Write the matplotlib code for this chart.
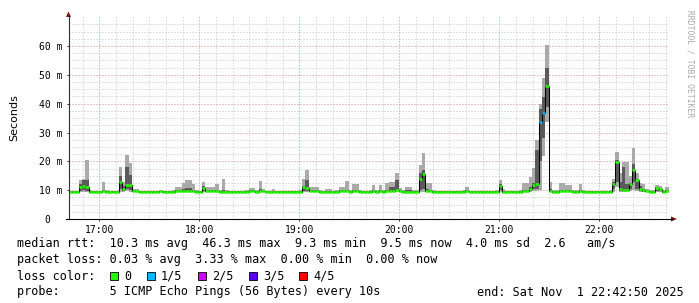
import numpy as np
import matplotlib
matplotlib.use('Agg')
import matplotlib.pyplot as plt
from matplotlib.patches import Polygon, Rectangle
from matplotlib.lines import Line2D

# ---------------------
# data (ms), one sample every 2 min from 16:41:30
# ---------------------
t_start = 16 * 60 + 41.5      # minutes of day
step_min = 2.0

rtt_min = [
    9.3, 9.3, 9.3, 9.4, 9.5, 9.4, 9.3, 9.3, 9.3, 9.3,
    9.4, 9.3, 9.3, 9.3, 9.3, 9.5, 9.4, 9.6, 9.5, 9.4,
    9.3, 9.3, 9.3, 9.2, 9.3, 9.3, 9.3, 9.3, 9.3, 9.3,
    9.3, 9.3, 9.3, 9.3, 9.4, 9.4, 9.4, 9.3, 9.3, 9.3,
    9.4, 9.4, 9.4, 9.3, 9.3, 9.3, 9.0, 9.3, 9.1, 9.3,
    9.3, 9.3, 9.2, 9.3, 9.3, 9.3, 9.3, 9.4, 9.3, 9.3,
    9.3, 9.3, 9.3, 9.2, 9.3, 9.3, 9.1, 9.3, 9.3, 9.3,
    9.4, 9.5, 9.4, 9.3, 9.3, 9.3, 9.1, 9.3, 9.3, 9.3,
    9.3, 9.3, 9.3, 9.4, 9.3, 9.3, 9.3, 9.3, 9.2, 9.3,
    9.3, 9.3, 9.3, 9.3, 9.3, 9.3, 9.4, 9.4, 9.5, 9.3,
    9.3, 9.1, 9.1, 9.3, 9.3, 9.5, 9.5, 9.4, 9.3, 9.3,
    9.1, 9.3, 9.3, 9.3, 9.2, 9.3, 9.3, 9.3, 9.3, 9.3,
    9.3, 9.3, 9.3, 9.3, 9.1, 9.3, 9.3, 9.3, 9.3, 9.5,
    9.3, 9.3, 9.3, 9.2, 9.3, 9.3, 9.3, 9.3, 9.4, 9.6,
    9.8, 10.0, 22.0, 33.7, 9.3, 9.3, 9.3, 9.3, 9.3, 9.3,
    9.3, 9.3, 9.3, 9.3, 9.3, 9.3, 9.3, 9.1, 9.3, 9.3,
    9.2, 9.3, 9.3, 9.5, 11.0, 9.5, 9.4, 9.4, 9.6, 10.0,
    9.8, 9.4, 9.4, 9.3, 9.3, 9.3, 9.5, 9.4, 9.3, 9.3,
]
rtt_low = [
    9.4, 9.4, 9.4, 9.8, 10.2, 9.8, 9.4, 9.4, 9.4, 9.4,
    9.5, 9.4, 9.4, 9.4, 9.4, 10.5, 9.8, 10.4, 10.2, 9.6,
    9.5, 9.4, 9.4, 9.3, 9.4, 9.4, 9.4, 9.5, 9.4, 9.4,
    9.4, 9.4, 9.5, 9.5, 9.6, 9.7, 9.6, 9.5, 9.4, 9.4,
    9.8, 9.6, 9.6, 9.5, 9.5, 9.4, 9.1, 9.4, 9.2, 9.4,
    9.4, 9.4, 9.3, 9.4, 9.5, 9.5, 9.4, 9.6, 9.5, 9.4,
    9.4, 9.4, 9.4, 9.3, 9.4, 9.4, 9.2, 9.4, 9.4, 9.4,
    9.7, 9.8, 9.6, 9.6, 9.5, 9.4, 9.2, 9.4, 9.4, 9.4,
    9.4, 9.5, 9.5, 9.6, 9.4, 9.5, 9.5, 9.4, 9.3, 9.4,
    9.4, 9.5, 9.4, 9.5, 9.4, 9.5, 9.6, 9.6, 9.7, 9.5,
    9.4, 9.2, 9.2, 9.4, 9.4, 10.0, 10.5, 9.6, 9.5, 9.4,
    9.2, 9.4, 9.4, 9.4, 9.3, 9.4, 9.4, 9.4, 9.4, 9.5,
    9.4, 9.4, 9.4, 9.4, 9.2, 9.4, 9.4, 9.4, 9.4, 10.0,
    9.4, 9.4, 9.4, 9.3, 9.4, 9.4, 9.5, 9.5, 9.7, 10.5,
    10.5, 20.0, 28.0, 39.0, 9.5, 9.4, 9.4, 9.5, 9.5, 9.5,
    9.5, 9.4, 9.4, 9.5, 9.4, 9.4, 9.4, 9.2, 9.4, 9.4,
    9.3, 9.4, 9.4, 10.5, 13.0, 9.8, 9.6, 9.7, 10.5, 13.0,
    10.5, 9.6, 9.5, 9.5, 9.4, 9.4, 9.8, 9.7, 9.4, 9.5,
]
rtt_median = [
    9.5, 9.5, 9.5, 11.2, 11.6, 11.0, 9.5, 9.5, 9.5, 9.5,
    9.6, 9.5, 9.5, 9.5, 9.5, 12.9, 10.5, 11.8, 11.8, 9.7,
    9.6, 9.5, 9.5, 9.4, 9.5, 9.5, 9.5, 9.6, 9.5, 9.5,
    9.5, 9.5, 9.6, 9.6, 9.7, 9.8, 9.7, 9.6, 9.5, 9.5,
    10.9, 9.8, 9.8, 9.7, 9.7, 9.5, 9.2, 9.5, 9.3, 9.5,
    9.5, 9.5, 9.4, 9.5, 9.6, 9.6, 9.5, 9.7, 9.6, 9.5,
    9.5, 9.5, 9.5, 9.4, 9.5, 9.5, 9.3, 9.5, 9.5, 9.5,
    11.0, 10.8, 9.8, 9.7, 9.6, 9.5, 9.3, 9.5, 9.5, 9.5,
    9.5, 9.6, 9.6, 9.7, 9.5, 9.6, 9.6, 9.5, 9.4, 9.5,
    9.5, 9.6, 9.5, 9.6, 9.5, 9.6, 9.7, 9.8, 10.0, 9.6,
    9.5, 9.3, 9.3, 9.5, 9.5, 13.8, 15.5, 9.7, 9.6, 9.5,
    9.3, 9.5, 9.5, 9.5, 9.4, 9.5, 9.5, 9.5, 9.5, 9.6,
    9.5, 9.5, 9.5, 9.5, 9.3, 9.5, 9.5, 9.5, 9.5, 11.6,
    9.5, 9.5, 9.5, 9.4, 9.5, 9.5, 9.6, 9.6, 10.5, 11.8,
    12.0, 33.7, 36.7, 46.3, 9.6, 9.5, 9.5, 9.6, 9.6, 9.6,
    9.6, 9.5, 9.5, 9.6, 9.5, 9.5, 9.5, 9.3, 9.5, 9.5,
    9.4, 9.5, 9.5, 12.2, 19.9, 10.5, 9.9, 10.0, 12.0, 16.9,
    13.5, 10.3, 10.0, 9.6, 9.5, 9.5, 10.6, 10.5, 9.5, 9.6,
]
rtt_high = [
    9.6, 9.6, 9.6, 12.0, 13.5, 13.5, 9.7, 9.6, 9.6, 9.6,
    10.0, 9.6, 9.6, 9.6, 9.6, 14.9, 11.5, 18.1, 15.3, 10.2,
    9.8, 9.6, 9.6, 9.6, 9.6, 9.6, 9.6, 9.8, 9.6, 9.6,
    9.6, 9.6, 9.9, 9.9, 10.5, 10.6, 10.6, 10.0, 9.6, 9.6,
    11.5, 10.2, 10.2, 10.0, 10.2, 9.6, 10.0, 9.6, 9.6, 9.6,
    9.6, 9.6, 9.6, 9.6, 9.9, 9.9, 9.6, 10.5, 9.8, 9.6,
    9.6, 9.8, 9.6, 9.6, 9.6, 9.6, 9.6, 9.6, 9.6, 9.6,
    11.3, 13.5, 10.0, 9.9, 9.9, 9.6, 9.6, 9.8, 9.8, 9.6,
    9.6, 9.9, 9.9, 10.2, 9.6, 10.0, 10.0, 9.6, 9.6, 9.6,
    9.6, 10.0, 9.6, 10.0, 9.6, 10.2, 11.2, 11.2, 13.5, 9.9,
    9.6, 9.9, 9.9, 9.6, 9.6, 15.8, 17.0, 10.5, 10.2, 9.6,
    9.6, 9.6, 9.6, 9.6, 9.6, 9.6, 9.6, 9.6, 9.6, 9.9,
    9.6, 9.6, 9.6, 9.6, 9.6, 9.6, 9.6, 9.6, 9.6, 12.2,
    9.8, 9.6, 9.6, 9.6, 9.6, 9.6, 10.0, 10.0, 11.0, 12.5,
    24.0, 38.0, 42.4, 52.3, 10.5, 9.6, 9.6, 10.0, 10.0, 9.9,
    9.9, 9.6, 9.6, 10.0, 9.6, 9.6, 9.6, 9.6, 9.6, 9.6,
    9.6, 9.6, 9.6, 12.8, 20.5, 13.0, 18.0, 12.0, 12.5, 19.0,
    14.0, 11.5, 10.5, 9.8, 9.6, 9.6, 11.0, 10.8, 9.6, 9.9,
]
rtt_max = [
    9.8, 9.8, 9.8, 13.5, 13.8, 20.5, 9.9, 9.8, 9.8, 9.8,
    12.9, 9.9, 9.8, 9.8, 9.8, 18.1, 13.0, 22.2, 19.5, 10.5,
    10.4, 9.8, 9.8, 9.8, 9.8, 9.8, 9.8, 10.2, 9.8, 9.8,
    9.8, 9.9, 11.2, 11.2, 12.6, 13.5, 13.5, 12.0, 9.9, 9.8,
    12.9, 11.0, 11.0, 11.0, 12.0, 9.9, 13.8, 9.9, 9.8, 9.8,
    9.8, 9.8, 9.8, 9.9, 10.9, 10.9, 9.9, 13.3, 10.5, 9.8,
    9.8, 10.4, 9.8, 9.8, 9.8, 9.8, 9.8, 9.8, 9.8, 9.9,
    13.8, 17.0, 11.2, 11.2, 11.2, 9.9, 9.8, 10.3, 10.3, 9.8,
    9.9, 11.0, 11.0, 13.2, 9.9, 12.0, 12.0, 9.9, 9.8, 9.8,
    9.9, 11.8, 9.9, 11.8, 9.9, 12.4, 12.9, 12.9, 15.8, 10.8,
    9.9, 11.2, 11.2, 9.9, 9.9, 18.7, 22.8, 12.6, 12.6, 9.9,
    9.8, 9.8, 9.8, 9.8, 9.8, 9.8, 9.8, 9.8, 9.9, 11.0,
    9.8, 9.8, 9.8, 9.8, 9.8, 9.8, 9.8, 9.8, 9.9, 13.5,
    10.3, 9.8, 9.8, 9.8, 9.8, 9.9, 12.6, 12.6, 14.7, 17.6,
    27.4, 40.0, 48.8, 60.4, 12.9, 9.9, 9.9, 12.6, 12.6, 11.8,
    11.8, 9.9, 9.9, 12.2, 9.9, 9.8, 9.8, 9.8, 9.8, 9.8,
    9.8, 9.8, 9.9, 13.8, 23.3, 16.0, 19.9, 19.9, 15.0, 24.5,
    16.0, 12.6, 12.0, 10.5, 9.9, 9.9, 11.8, 11.5, 9.9, 11.0,
]
# lost pings out of 5
loss = [
    0, 0, 0, 0, 0, 0, 0, 0, 0, 0,
    0, 0, 0, 0, 0, 0, 0, 0, 0, 0,
    0, 0, 0, 0, 0, 0, 0, 0, 0, 0,
    0, 0, 0, 0, 0, 0, 0, 0, 0, 0,
    0, 0, 0, 0, 0, 0, 0, 0, 0, 0,
    0, 0, 0, 0, 0, 0, 0, 0, 0, 0,
    0, 0, 0, 0, 0, 0, 0, 0, 0, 0,
    0, 0, 0, 0, 0, 0, 0, 0, 0, 0,
    0, 0, 0, 0, 0, 0, 0, 0, 0, 0,
    0, 0, 0, 0, 0, 0, 0, 0, 0, 0,
    0, 0, 0, 0, 0, 0, 0, 0, 0, 0,
    0, 0, 0, 0, 0, 0, 0, 0, 0, 0,
    0, 0, 0, 0, 0, 0, 0, 0, 0, 0,
    0, 0, 0, 0, 0, 0, 0, 0, 0, 0,
    0, 1, 1, 0, 0, 0, 0, 0, 0, 0,
    0, 0, 0, 0, 0, 0, 0, 0, 0, 0,
    0, 0, 0, 0, 0, 0, 0, 0, 0, 0,
    0, 0, 0, 0, 0, 0, 0, 0, 0, 0,
]

loss_labels = ['0', '1/5', '2/5', '3/5', '4/5']
loss_colors = ['#26ff00', '#00b8ff', '#d000ff', '#5a00ff', '#ff0000']

hour_labels = ['17:00', '18:00', '19:00', '20:00', '21:00', '22:00']
y_labels = ['0  ', '10 m', '20 m', '30 m', '40 m', '50 m', '60 m']

legend_lines = [
    'median rtt:  10.3 ms avg  46.3 ms max  9.3 ms min  9.5 ms now  4.0 ms sd  2.6   am/s',
    'packet loss: 0.03 % avg  3.33 % max  0.00 % min  0.00 % now',
]
probe_text = 'probe:       5 ICMP Echo Pings (56 Bytes) every 10s'
end_text = 'end: Sat Nov  1 22:42:50 2025'

# ---------------------
# figure
# ---------------------
W, H = 699, 303
MONO = 'DejaVu Sans Mono'


def fx(x):
    return x / W


def fy(y):
    return 1 - y / H


fig = plt.figure(figsize=(W / 100, H / 100), dpi=100)
fig.patch.set_facecolor('white')
ax = fig.add_axes([fx(68.5), fy(219), 600 / W, (219 - 17.2) / H])

n = len(rtt_median)
edges = t_start + step_min * np.arange(n + 1)


def ext(a):
    a = np.asarray(a, dtype=float)
    return np.append(a, a[-1])


ax.fill_between(edges, ext(rtt_min), ext(rtt_max), step='post', color='#aaaaaa', lw=0, zorder=2)
ax.fill_between(edges, ext(rtt_low), ext(rtt_high), step='post', color='#5a5a5a', lw=0, zorder=3)
ax.step(edges, ext(rtt_median), where='post', color='black', lw=0.75, zorder=4)
ax.hlines(rtt_median, edges[:-1], edges[1:], colors=[loss_colors[l] for l in loss],
          lw=1.8, zorder=5, capstyle='butt')

ax.set_xlim(t_start, t_start + 360)
ax.set_ylim(0, 70)

hour_pos = [17 * 60 + 60 * k for k in range(len(hour_labels))]
ax.set_xticks(hour_pos)
ax.set_xticklabels(hour_labels, family=MONO, fontsize=7)
ax.set_xticks(np.arange(16 * 60 + 50, t_start + 361, 10), minor=True)
ax.set_yticks(np.arange(0, 61, 10))
ax.set_yticklabels(y_labels, family=MONO, fontsize=7)
ax.set_yticks(np.arange(0, 70, 2.5), minor=True)

ax.grid(which='minor', color='#c4c4c4', ls=(0, (1, 2)), lw=0.72)
ax.grid(which='major', color='#d98888', ls=(0, (1, 2)), lw=0.72)
ax.set_axisbelow(True)
ax.tick_params(which='major', length=1.5, width=0.72, color='#303030', pad=3)
ax.tick_params(which='minor', length=0)
for s in ax.spines.values():
    s.set_visible(False)

# axis lines with arrows
fig.add_artist(Line2D([fx(68.5), fx(68.5)], [fy(219), fy(16)], color='#303030', lw=0.8))
fig.add_artist(Line2D([fx(66), fx(672)], [fy(219), fy(219)], color='black', lw=0.8))
fig.add_artist(Polygon([[fx(66), fy(17)], [fx(71), fy(17)], [fx(68.5), fy(11.5)]],
                       closed=True, color='#7a1010', lw=0))
fig.add_artist(Polygon([[fx(671), fy(216.5)], [fx(671), fy(221.5)], [fx(677), fy(219)]],
                       closed=True, color='#7a1010', lw=0))

fig.text(fx(14), fy(118), 'Seconds', rotation=90, ha='center', va='center',
         fontsize=8, family='DejaVu Sans')
fig.text(fx(690), fy(10), 'RRDTOOL / TOBI OETIKER', rotation=270, ha='center', va='top',
         fontsize=5.8, family=MONO, color='#aaaaaa')

# legend
LS = 8.5
fig.text(fx(17), fy(244), legend_lines[0], ha='left', va='center', fontsize=LS, family=MONO)
fig.text(fx(17), fy(260), legend_lines[1], ha='left', va='center', fontsize=LS, family=MONO)
fig.text(fx(17), fy(276), 'loss color:', ha='left', va='center', fontsize=LS, family=MONO)
box_x = [110, 147, 198, 249, 299]
for bx, lab, col in zip(box_x, loss_labels, loss_colors):
    fig.add_artist(Rectangle((fx(bx), fy(280)), 8 / W, 8 / H, facecolor=col,
                             edgecolor='black', lw=0.6))
    fig.text(fx(bx + 14), fy(276), lab, ha='left', va='center', fontsize=LS, family=MONO)
fig.text(fx(17), fy(292), probe_text, ha='left', va='center', fontsize=LS, family=MONO)
fig.text(fx(684), fy(292), end_text, ha='right', va='center', fontsize=LS, family=MONO)

fig.savefig('out.png', dpi=100)
